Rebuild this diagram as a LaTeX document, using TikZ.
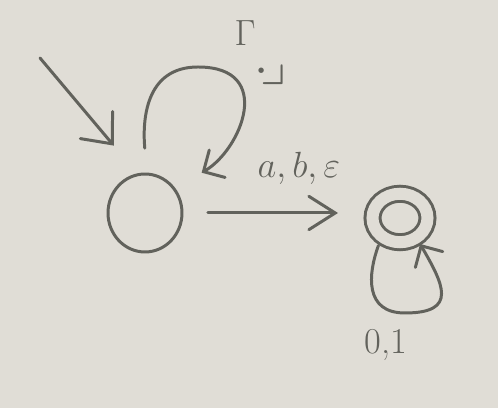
\documentclass[tikz,border=0pt]{standalone}
\usepackage{amsmath, amsthm}
\usepackage{amssymb}
\usetikzlibrary{arrows.meta,shapes.geometric}

\definecolor{paper}{RGB}{224,221,214}
\definecolor{pencil}{RGB}{98,98,92}

\tikzset{
  st/.style={draw=pencil, ellipse, line width=1.7pt, inner sep=0pt, outer sep=0pt},
  edge/.style={draw=pencil, line width=1.7pt, line cap=round,
    -{Straight Barb[length=15pt,width=19pt,line cap=round]}},
  looptip/.style={-{Straight Barb[length=9pt,width=18pt,line cap=round]}},
  lbl/.style={text=pencil, font=\huge, inner sep=0pt}
}

\begin{document}
\begin{tikzpicture}[x=0.02cm,y=0.02cm]

\fill[paper] (0,0) rectangle (498,408);
\useasboundingbox (0,0) rectangle (498,408);

%% states
\node[st, minimum width=1.48cm, minimum height=1.56cm] (q0) at (145,195) {};
\node[st, double=paper, double distance=0.24cm,
  minimum width=1.1cm, minimum height=0.97cm] (q1) at (400,190) {};

%% start arrow
\coordinate (start) at (40,350);
\draw[edge, -{Straight Barb[length=14pt,width=24pt,line cap=round]},
  shorten >=0.76cm] (start) -- (q0.100);

%% edges
\draw[edge, shorten <=0.52cm, shorten >=0.69cm] (q0.east) -- (q0.east -| q1.west)
  node[lbl, pos=0.614, anchor=base, yshift=0.7cm] (ab) {$a,b,\varepsilon$};

\coordinate (top0) at (198,341);
\draw[edge, looptip, shorten <=0.52cm, shorten >=0.64cm]
  (q0.87) to[out=95,in=180,looseness=1.15] (top0) to[out=0,in=30,looseness=1.6] (q0.40);

\coordinate (bot1) at (405,95);
\draw[edge, looptip, shorten <=0.2cm, shorten >=0.15cm]
  (q1.225) to[out=250,in=180,looseness=1.3] (bot1) to[out=0,in=300,looseness=1.8] (q1.310);

%% labels
\node[lbl] (gam) at (245,375) {$\Gamma$};
\node[lbl, scale=1.4] (crn) at (270,336) {$\cdot\!\lrcorner$};
\node[lbl] (zo) at (386,63) {0,1};

\end{tikzpicture}
\end{document}
